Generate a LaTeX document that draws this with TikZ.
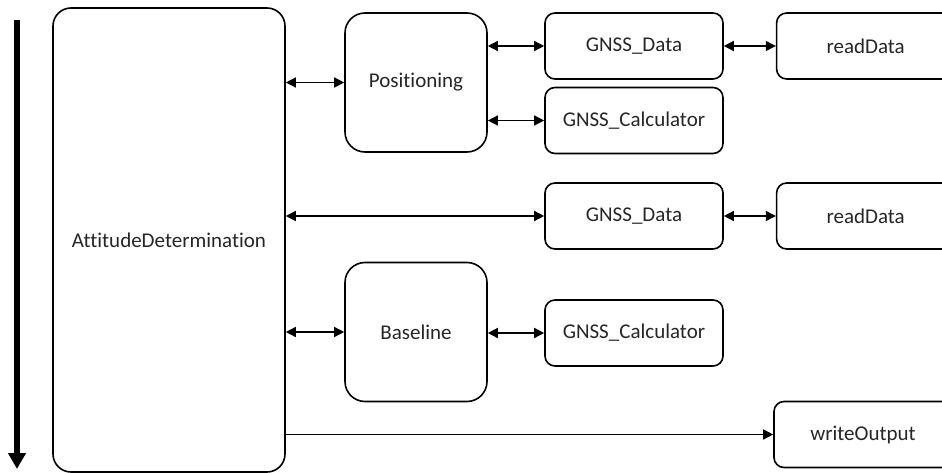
\documentclass[tikz,border=0pt]{standalone}
\usepackage{fontspec}
\setmainfont[Ligatures=NoCommon]{Carlito}
\usetikzlibrary{arrows.meta,positioning}

\tikzset{
  bigbox/.style={draw, line width=1.6pt, rounded corners=18pt, inner sep=0pt,
    minimum width=232pt, minimum height=464pt},
  midbox/.style={draw, line width=1.6pt, rounded corners=20pt, inner sep=0pt,
    minimum width=142pt, minimum height=139pt},
  smallbox/.style={draw, line width=1.6pt, rounded corners=10pt, inner sep=0pt,
    minimum width=178pt, minimum height=66pt},
  link/.style={line width=1.4pt, {Triangle[length=10pt,width=10pt]}-{Triangle[length=10pt,width=10pt]}},
  onelink/.style={line width=1.4pt, -{Triangle[length=10pt,width=10pt]}}
}

\begin{document}
\begin{tikzpicture}[x=1pt, y=-1pt, font=\fontsize{21}{25}\selectfont, text=black!85]
  \useasboundingbox (0,0) rectangle (942,473);

  % main block and the two sub blocks
  \node[bigbox] (att) at (169,240) {AttitudeDetermination};
  \node[midbox] (pos) at (416,82.5) {Positioning};
  \node[midbox] (base) at (416,332) {Baseline};

  % right hand blocks
  \node[smallbox] (gdata) at (634,46) {GNSS\_Data};
  \node[smallbox, right=52pt of gdata] (rdata) {readData};
  \node[smallbox] (gcalc) at (634,120.5) {GNSS\_Calculator};
  \node[smallbox] (gdatab) at (634,216) {GNSS\_Data};
  \node[smallbox, right=52pt of gdatab] (rdatab) {readData};
  \node[smallbox] (gcalcb) at (634,333) {GNSS\_Calculator};
  \node[smallbox] (wout) at (863,434.5) {writeOutput};

  % time arrow
  \coordinate (flowtop) at (17,20);
  \coordinate (flowend) at (17,469);
  \draw[line width=6pt, -{Triangle[length=16pt,width=17pt]}] (flowtop) -- (flowend);

  % connections
  \draw[link] (att.east |- pos.west) -- (pos.west);
  \draw[link] (pos.east |- gdata.west) -- (gdata.west);
  \draw[link] (pos.east |- gcalc.west) -- (gcalc.west);
  \draw[link] (gdata.east) -- (rdata.west);
  \draw[link] (att.east |- gdatab.west) -- (gdatab.west);
  \draw[link] (gdatab.east) -- (rdatab.west);
  \draw[link] (att.east |- base.west) -- (base.west);
  \draw[link] (base.east |- gcalcb.west) -- (gcalcb.west);
  \draw[onelink] (att.east |- wout.west) -- (wout.west);
\end{tikzpicture}
\end{document}
